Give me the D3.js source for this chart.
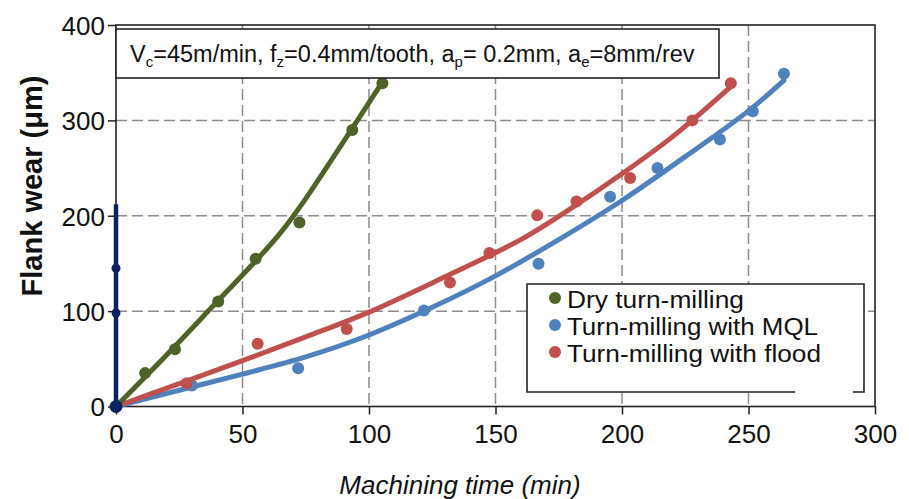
<!DOCTYPE html>
<html>
<head>
<meta charset="utf-8">
<script src="https://cdn.jsdelivr.net/npm/d3@7"></script>
<style>
  html, body { margin: 0; padding: 0; background: #fff; }
  #chart text { font-family: "Liberation Sans", Arial, Helvetica, sans-serif; }
</style>
</head>
<body>
<div id="chart"></div>
<script>
// tick values
const xTicks = [0, 50, 100, 150, 200, 250, 300];
const yTicks = [0, 100, 200, 300, 400];
const xGrid = [50, 100, 150, 200, 250];
const yGrid = [100, 200, 300];

const seriesNames = ["Dry turn-milling", "Turn-milling with MQL", "Turn-milling with flood"];

// measured points (min, µm)
const dryTime = [11.5, 23.3, 40.4, 55.2, 72.5, 93.4, 105.3];
const dryWear = [35, 60, 110, 155, 193, 290, 339];
const mqlTime = [30, 72, 121.7, 167, 195.3, 214, 238.7, 251.7, 264];
const mqlWear = [22, 40, 100.7, 149.7, 220, 250, 280, 309.5, 349];
const floodTime = [27.9, 56, 91.2, 132, 147.6, 166.5, 182, 203.2, 227.8, 243];
const floodWear = [24.5, 65.8, 81.2, 130, 161, 200.4, 215, 239.7, 300, 339];

// fitted trend curves
const dryFitTime = [0, 20, 40, 55, 65, 75, 90, 105];
const dryFitWear = [0, 54, 110, 152, 182, 218, 278, 339];
const mqlFitTime = [0, 25, 50, 75, 100, 125, 150, 175, 200, 225, 250, 264];
const mqlFitWear = [0, 17, 34, 52, 75, 104, 137, 175, 216, 262, 310, 342];
const floodFitTime = [0, 25, 50, 75, 100, 130, 160, 180, 200, 220, 243.7];
const floodFitWear = [0, 24, 48, 73, 99, 136, 175, 208, 244, 283, 337];

// stray dark trace along the y axis in the source image
const navyWear = [0, 52, 98, 145, 184, 212];
const navyDots = [98, 145];

const colors = ["#4f6228", "#4f81bd", "#c0504d"];
const navy = "#0c2163";

const width = 909, height = 499;
const margin = { top: 25, right: 34, bottom: 92.5, left: 116 };

const svg = d3.select("#chart").append("svg")
  .attr("width", width)
  .attr("height", height);

const x = d3.scaleLinear().domain([0, 300]).range([margin.left, width - margin.right]);
const y = d3.scaleLinear().domain([0, 400]).range([height - margin.bottom, margin.top]);

// grid
svg.append("g").selectAll("line")
  .data(xGrid)
  .join("line")
  .attr("x1", d => x(d)).attr("x2", d => x(d))
  .attr("y1", y(400)).attr("y2", y(0))
  .attr("stroke", "#8c8c8c").attr("stroke-width", 1.5)
  .attr("stroke-dasharray", "11,5");

svg.append("g").selectAll("line")
  .data(yGrid)
  .join("line")
  .attr("x1", x(0)).attr("x2", x(300))
  .attr("y1", d => y(d)).attr("y2", d => y(d))
  .attr("stroke", "#8c8c8c").attr("stroke-width", 1.5)
  .attr("stroke-dasharray", "11,5");

// axes
const xAxis = svg.append("g")
  .attr("transform", `translate(0,${y(0)})`)
  .call(d3.axisBottom(x).tickValues(xTicks).tickSize(8).tickPadding(10));
xAxis.selectAll("text").attr("font-size", 26).attr("fill", "#111");

const yAxis = svg.append("g")
  .attr("transform", `translate(${x(0)},0)`)
  .call(d3.axisLeft(y).tickValues(yTicks).tickSize(8).tickPadding(3));
yAxis.selectAll("text").attr("font-size", 26).attr("fill", "#111").attr("dy", "0.36em");

svg.selectAll(".domain").remove();
svg.selectAll(".tick line").attr("stroke", "#222").attr("stroke-width", 1.5);

// frame
svg.append("rect")
  .attr("x", x(0)).attr("y", y(400))
  .attr("width", x(300) - x(0)).attr("height", y(0) - y(400))
  .attr("fill", "none").attr("stroke", "#222").attr("stroke-width", 1.6);

// series
const series = [
  { name: seriesNames[1], color: colors[1], t: mqlTime, w: mqlWear, ft: mqlFitTime, fw: mqlFitWear },
  { name: seriesNames[2], color: colors[2], t: floodTime, w: floodWear, ft: floodFitTime, fw: floodFitWear },
  { name: seriesNames[0], color: colors[0], t: dryTime, w: dryWear, ft: dryFitTime, fw: dryFitWear }
];

const line = d3.line()
  .x(d => x(d[0]))
  .y(d => y(d[1]))
  .curve(d3.curveCatmullRom.alpha(0.5));

series.forEach(s => {
  const g = svg.append("g");
  g.append("path")
    .datum(s.ft.map((t, i) => [t, s.fw[i]]))
    .attr("d", line)
    .attr("fill", "none")
    .attr("stroke", s.color)
    .attr("stroke-width", 5)
    .attr("stroke-linecap", "round");
  g.selectAll("circle")
    .data(s.t.map((t, i) => [t, s.w[i]]))
    .join("circle")
    .attr("cx", d => x(d[0]))
    .attr("cy", d => y(d[1]))
    .attr("r", 6)
    .attr("fill", s.color);
});

// navy trace
svg.append("path")
  .datum(navyWear.map(w => [0, w]))
  .attr("d", d3.line().x(d => x(d[0])).y(d => y(d[1])))
  .attr("stroke", navy).attr("stroke-width", 4.5).attr("fill", "none");
svg.selectAll(".navydot")
  .data(navyDots)
  .join("circle")
  .attr("class", "navydot")
  .attr("cx", x(0)).attr("cy", d => y(d)).attr("r", 4.5).attr("fill", navy);
svg.append("circle").attr("cx", x(0)).attr("cy", y(0)).attr("r", 6.5).attr("fill", navy);

// condition box
const ann = svg.append("g");
ann.append("rect")
  .attr("x", x(0)).attr("y", 29)
  .attr("width", 603).attr("height", 49)
  .attr("fill", "#fff").attr("stroke", "#222").attr("stroke-width", 1.6);
const annText = ann.append("text")
  .attr("x", 130).attr("y", 62)
  .attr("font-size", 23.5).attr("fill", "#111");
const annParts = [["V", null], ["c", "sub"], ["=45m/min, f", null], ["z", "sub"],
  ["=0.4mm/tooth, a", null], ["p", "sub"], ["= 0.2mm, a", null], ["e", "sub"], ["=8mm/rev", null]];
let shift = 0;
annParts.forEach(([txt, kind]) => {
  if (kind === "sub") {
    annText.append("tspan").attr("dy", 5).attr("font-size", 15).text(txt);
    shift = -5;
  } else {
    annText.append("tspan").attr("dy", shift).text(txt);
    shift = 0;
  }
});

// legend
const legendLen = [177, 251, 254];
const lg = svg.append("g");
lg.append("rect")
  .attr("x", 527).attr("y", 284).attr("width", 337).attr("height", 108)
  .attr("fill", "#fff");
lg.append("path")
  .attr("d", "M795,392H527V284H864V392H853")
  .attr("fill", "none").attr("stroke", "#222").attr("stroke-width", 1.6);
[0, 1, 2].forEach((k, i) => {
  lg.append("circle")
    .attr("cx", 555).attr("cy", 298 + i * 27).attr("r", 6)
    .attr("fill", colors[k]);
  lg.append("text")
    .attr("x", 567).attr("y", 308 + i * 27)
    .attr("font-size", 23).attr("fill", "#111")
    .attr("textLength", legendLen[k]).attr("lengthAdjust", "spacingAndGlyphs")
    .text(seriesNames[k]);
});

// axis titles
svg.append("text")
  .attr("transform", `translate(42,186) rotate(-90)`)
  .attr("text-anchor", "middle")
  .attr("font-size", 29).attr("font-weight", "bold").attr("fill", "#111")
  .text("Flank wear (μm)");

svg.append("text")
  .attr("x", 460).attr("y", 494)
  .attr("text-anchor", "middle")
  .attr("font-size", 26).attr("font-style", "italic").attr("fill", "#111")
  .text("Machining time (min)");
</script>
</body>
</html>
